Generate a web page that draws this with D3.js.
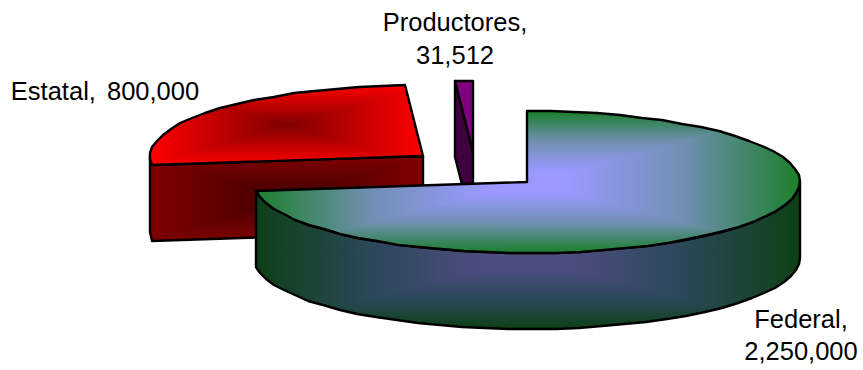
<!DOCTYPE html>
<html>
<head>
<meta charset="utf-8">
<script src="https://cdn.jsdelivr.net/npm/d3@7/dist/d3.min.js"></script>
<style>
  html, body { margin: 0; padding: 0; background: #fff; }
  svg { display: block; }
  text { font-family: "Liberation Sans", Arial, sans-serif; font-size: 25.5px; fill: #000; word-spacing: 4px; }
</style>
</head>
<body>
<svg id="chart" width="863" height="370"></svg>
<script>
// Contributions by source, exploded 3D pie
const categories = ["Federal", "Estatal", "Productores"];
const values = [2250000, 800000, 31512];

// Projected pie geometry
const rx = 273, ry = 71, depth = 76;
const centres = [[527, 182], [423, 156], [473, 152]];

// Where each label sits, line by line
const labelLines = [
  [{ x: 801, y: 328, part: "name" }, { x: 801, y: 360, part: "value" }],
  [{ x: 105, y: 100, part: "both" }],
  [{ x: 455, y: 31, part: "name" }, { x: 455, y: 64, part: "value" }]
];

// Fill colours per slice, centre to rim, and how the two ramps combine
const topRamp = [["#9999ff", "#6f8fb0", "#1a7f2a"], ["#800000", "#c00000", "#ff0000"], ["#800080"]];
const sideRamp = [["#4d4d80", "#2a4858", "#0d4015"], ["#400000", "#600000", "#800000"], ["#400040"]];
const blendMode = ["darken", "lighten", "normal"];

const svg = d3.select("#chart");
const defs = svg.append("defs");
const fmt = d3.format(",");

const arcs = d3.pie().sort(null).startAngle(0).endAngle(2 * Math.PI)(values);

// Screen position of a pie angle on the tilted disc, snapped to whole pixels
const at = (i, a) => [
  Math.round(centres[i][0] + rx * Math.sin(a)),
  Math.round(centres[i][1] - ry * Math.cos(a))
];

// Outline sampled in short chords
function rim(i, a0, a1) {
  const n = Math.max(1, Math.round(Math.abs(a1 - a0) / (5 * Math.PI / 180)));
  return d3.range(n + 1).map(k => at(i, a0 + (a1 - a0) * k / n));
}
const line = d3.line();

// Path-style fill: a horizontal and a vertical ramp blended together
function ramps(id, ramp, box, plateau) {
  const make = (suffix, horizontal) => {
    const g = defs.append("linearGradient")
      .attr("id", id + suffix)
      .attr("gradientUnits", "userSpaceOnUse")
      .attr("x1", box.x0).attr("y1", box.y0)
      .attr("x2", horizontal ? box.x1 : box.x0)
      .attr("y2", horizontal ? box.y0 : box.y1);
    const inner = 0.5 - plateau, mid = inner / 2;
    [[0, 2], [mid, 1], [inner, 0], [1 - inner, 0], [1 - mid, 1], [1, 2]].forEach(([o, c]) =>
      g.append("stop").attr("offset", o).attr("stop-color", ramp[c]));
  };
  make("h", true);
  make("v", false);
}

function shaded(id, d, ramp, box, mode, plateau) {
  defs.append("clipPath").attr("id", id + "clip").append("path").attr("d", d);
  if (ramp.length === 1) {
    svg.append("path").attr("d", d).attr("fill", ramp[0]);
  } else {
    ramps(id, ramp, box, plateau);
    const g = svg.append("g")
      .attr("clip-path", `url(#${id}clip)`)
      .style("isolation", "isolate");
    ["h", "v"].forEach(s => g.append("rect")
      .attr("x", box.x0).attr("y", box.y0)
      .attr("width", box.x1 - box.x0).attr("height", box.y1 - box.y0)
      .attr("fill", `url(#${id}${s})`)
      .style("mix-blend-mode", s === "v" ? mode : "normal"));
  }
  svg.append("path").attr("d", d)
    .attr("fill", "none").attr("stroke", "#000")
    .attr("stroke-width", 2.4).attr("stroke-linejoin", "round");
}

function bounds(points) {
  return {
    x0: d3.min(points, p => p[0]), x1: d3.max(points, p => p[0]),
    y0: d3.min(points, p => p[1]), y1: d3.max(points, p => p[1])
  };
}

// Slices run back to front so the large one overlaps the others
[2, 1, 0].forEach(i => {
  const { startAngle: a0, endAngle: a1 } = arcs[i];
  const apex = centres[i];
  const top = rim(i, a0, a1);
  const topPts = [apex, ...top];

  // Front wall: cut face for the small slices, outer wall for the large one
  let wall;
  if (i === 0) {
    const outer = rim(i, Math.PI / 2, a1);
    wall = [...outer, ...outer.slice().reverse().map(p => [p[0], p[1] + depth])];
  } else {
    const edge = i === 1 ? rim(i, a0, 1.5 * Math.PI) : [at(i, a0)];
    wall = [apex, ...edge,
      ...edge.slice().reverse().map(p => [p[0], p[1] + depth]),
      [apex[0], apex[1] + depth]];
  }
  const wallPath = line(wall) + "Z";
  const topPath = line(topPts) + "Z";

  const plateau = i === 0 ? 0.08 : 0;
  const topBox = bounds(i === 0 ? rim(0, 0, 2 * Math.PI) : topPts);
  const wallBox = i === 0
    ? { x0: topBox.x0, x1: topBox.x1, y0: topBox.y0 + depth, y1: topBox.y1 + depth }
    : bounds(wall);
  shaded("wall" + i, wallPath, sideRamp[i], wallBox, blendMode[i], plateau);
  shaded("top" + i, topPath, topRamp[i], topBox, blendMode[i], plateau);
});

// Data labels
categories.forEach((name, i) => {
  labelLines[i].forEach(l => {
    const text = l.part === "name" ? name + ","
      : l.part === "value" ? fmt(values[i])
      : name + ", " + fmt(values[i]);
    svg.append("text")
      .attr("x", l.x).attr("y", l.y)
      .attr("text-anchor", "middle")
      .text(text);
  });
});
</script>
</body>
</html>
